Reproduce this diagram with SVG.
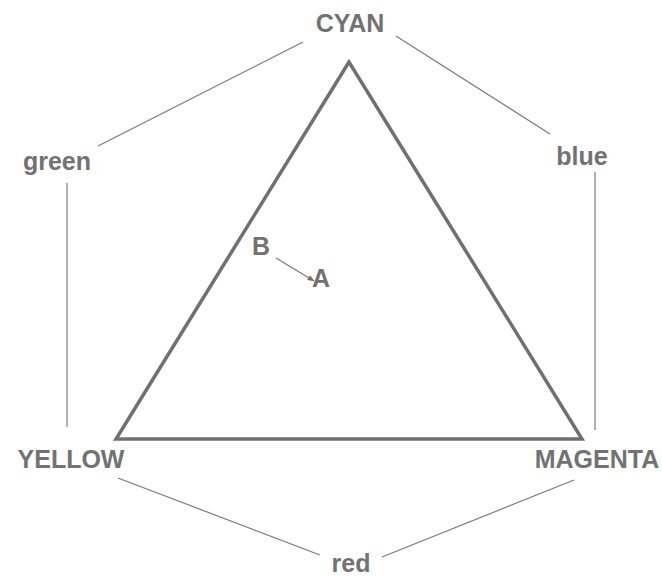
<svg xmlns="http://www.w3.org/2000/svg" width="662" height="578" viewBox="0 0 662 578">
<defs>
<style>
.lbl{font-family:"Liberation Sans",Arial,sans-serif;font-size:25px;font-weight:bold;fill:#727272;text-anchor:middle}
.thin{stroke:#7a7a7a;stroke-width:1.2;fill:none}
.tri{stroke:#707070;stroke-width:3.5;fill:none;stroke-linejoin:miter}
</style>
<marker id="ah" viewBox="0 0 10 10" refX="9" refY="5" markerWidth="6" markerHeight="6" orient="auto">
<path d="M0,1 L10,5 L0,9 z" fill="#707070"/>
</marker>
</defs>
<rect width="662" height="578" fill="#fff"/>
<g id="connectors">
<line class="thin" x1="303" y1="42" x2="98" y2="146"/>
<line class="thin" x1="396" y1="36" x2="550" y2="134"/>
<line class="thin" x1="67" y1="183" x2="67" y2="427"/>
<line class="thin" x1="595" y1="172" x2="595" y2="430"/>
<line class="thin" x1="118" y1="478" x2="320" y2="555"/>
<line class="thin" x1="574" y1="480" x2="382" y2="557"/>
<line class="thin" x1="276" y1="258" x2="314" y2="281" marker-end="url(#ah)"/>
</g>
<g id="triangle">
<polygon class="tri" points="349,62 116,439 582,439"/>
</g>
<g id="cyan"><text class="lbl" x="350" y="32">CYAN</text></g>
<g id="green"><text class="lbl" x="57" y="170">green</text></g>
<g id="blue"><text class="lbl" x="582" y="165">blue</text></g>
<g id="yellow"><text class="lbl" x="71" y="468">YELLOW</text></g>
<g id="magenta"><text class="lbl" x="597" y="468">MAGENTA</text></g>
<g id="red"><text class="lbl" x="351" y="572">red</text></g>
<g id="b"><text class="lbl" x="261" y="255">B</text></g>
<g id="a"><text class="lbl" x="321" y="287">A</text></g>
</svg>
